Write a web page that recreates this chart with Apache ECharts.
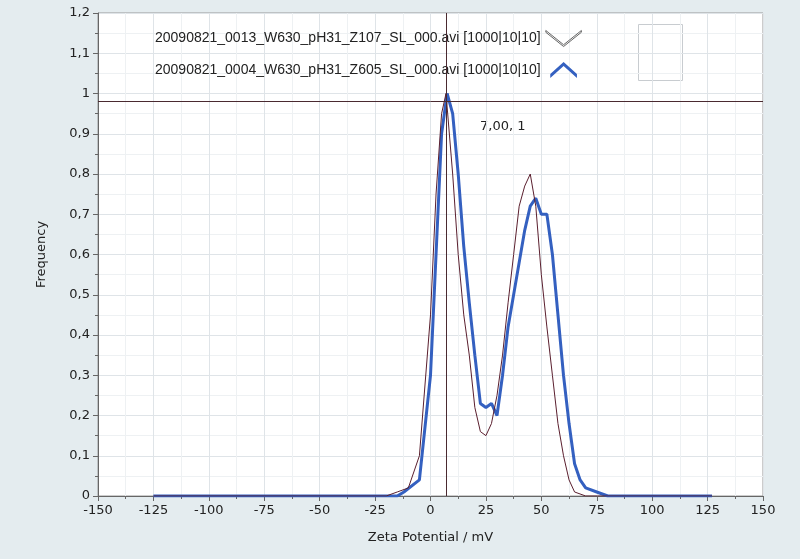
<!DOCTYPE html><html><head><meta charset="utf-8"><script src="https://cdn.jsdelivr.net/npm/echarts@6/dist/echarts.min.js"></script>
<style>html,body{margin:0;background:#e4ecef}#c{width:800px;height:559px}</style></head><body><div id="c"></div><script>
const xRed=[-125,-20,-15,-10,-5,0,2.5,5,7,10,12.5,15,17.5,20,22.5,25,27.5,30,32.5,35,37.5,40,42.5,45,47.5,50,52.5,55,57.5,60,62.5,65,70,127];
const yRed=[0,0,0.01,0.02,0.1,0.45,0.75,0.95,1.0,0.8,0.6,0.45,0.35,0.22,0.16,0.15,0.18,0.25,0.35,0.48,0.6,0.72,0.77,0.8,0.72,0.55,0.42,0.3,0.18,0.1,0.04,0.01,0,0];
const xBlue=[-125,-15,-12,-5,0,2.5,5,7.5,10,12.5,15,17.5,20,22.5,25,27.5,30,32.5,35,37.5,40,42.5,45,47.5,50,52.5,55,57.5,60,62.5,65,67.5,70,75,80,127];
const yBlue=[0,0,0.01,0.04,0.3,0.6,0.9,1.0,0.95,0.8,0.62,0.48,0.35,0.23,0.22,0.23,0.2,0.3,0.42,0.5,0.58,0.66,0.72,0.74,0.7,0.7,0.6,0.45,0.3,0.18,0.08,0.04,0.02,0.01,0,0];
const names=['20090821_0013_W630_pH31_Z107_SL_000.avi [1000|10|10]','20090821_0004_W630_pH31_Z605_SL_000.avi [1000|10|10]'];
const cursor=[7,0.98];
const fmt=v=>String(Math.round(v*10)/10).replace('.',',');
const c=echarts.init(document.getElementById('c'));
const vIcon='path://M0,2 L10,10 L20,2 L20,3 L10,11 L0,3 Z';
const aIcon='path://M0,10 L10,1 L20,10 L20,13 L10,4 L0,13 Z';
c.setOption({animation:false,
grid:{left:98,right:37,top:13,bottom:63,backgroundColor:'#fff',show:true,borderColor:'#999'},
legend:{orient:'vertical',left:150,top:25,itemGap:15,align:'right',textStyle:{fontFamily:'Liberation Sans',fontSize:14,color:'#222',padding:[0,0,0,0]},itemWidth:36,itemHeight:16,
 data:[{name:names[0],icon:vIcon,itemStyle:{color:'#fff',borderColor:'#666',borderWidth:1}},{name:names[1],icon:aIcon,itemStyle:{color:'#3460c0'}}]},
xAxis:{type:'value',min:-150,max:150,interval:25,name:'Zeta Potential / mV',nameLocation:'middle',nameGap:35,nameTextStyle:{fontFamily:'DejaVu Sans',fontSize:13,color:'#222'},
axisLabel:{color:'#222',fontSize:13,fontFamily:'DejaVu Sans'},axisLine:{onZero:false,lineStyle:{color:'#666'}},axisTick:{show:true,lineStyle:{color:'#666'}},minorTick:{show:true,splitNumber:2},
splitLine:{lineStyle:{color:'#dfe4e8'}},minorSplitLine:{show:true,lineStyle:{color:'#eef1f3'}}},
yAxis:{type:'value',min:0,max:1.2,interval:0.1,name:'Frequency',nameLocation:'middle',nameGap:50,nameTextStyle:{fontFamily:'DejaVu Sans',fontSize:13,color:'#222'},
axisLabel:{formatter:fmt,color:'#222',fontSize:13,fontFamily:'DejaVu Sans'},axisLine:{show:true,onZero:false,lineStyle:{color:'#666'}},axisTick:{show:true,lineStyle:{color:'#666'}},minorTick:{show:true,splitNumber:2},
splitLine:{lineStyle:{color:'#dfe4e8'}},minorSplitLine:{show:true,lineStyle:{color:'#eef1f3'}}},
series:[
{name:names[0],type:'line',showSymbol:false,data:xRed.map((x,i)=>[x,yRed[i]]),lineStyle:{color:'#5a1f2e',width:1},itemStyle:{color:'#5a1f2e'},z:3,
 markLine:{silent:true,symbol:'none',animation:false,lineStyle:{color:'#4a2a30',type:'solid',width:1},label:{show:false},
 data:[{xAxis:cursor[0]},{yAxis:cursor[1]}]}},
{name:names[1],type:'line',showSymbol:false,data:xBlue.map((x,i)=>[x,yBlue[i]]),lineStyle:{color:'#3460c0',width:3},itemStyle:{color:'#3460c0'},z:2}
],
graphic:[{type:'text',left:480,top:120,style:{text:'7,00, 1',font:'13px DejaVu Sans',fill:'#222'}},
{type:'rect',left:636,top:22,shape:{width:44,height:56},style:{fill:'none',stroke:'#c8ccd0',lineWidth:1}}]
});
</script></body></html>
